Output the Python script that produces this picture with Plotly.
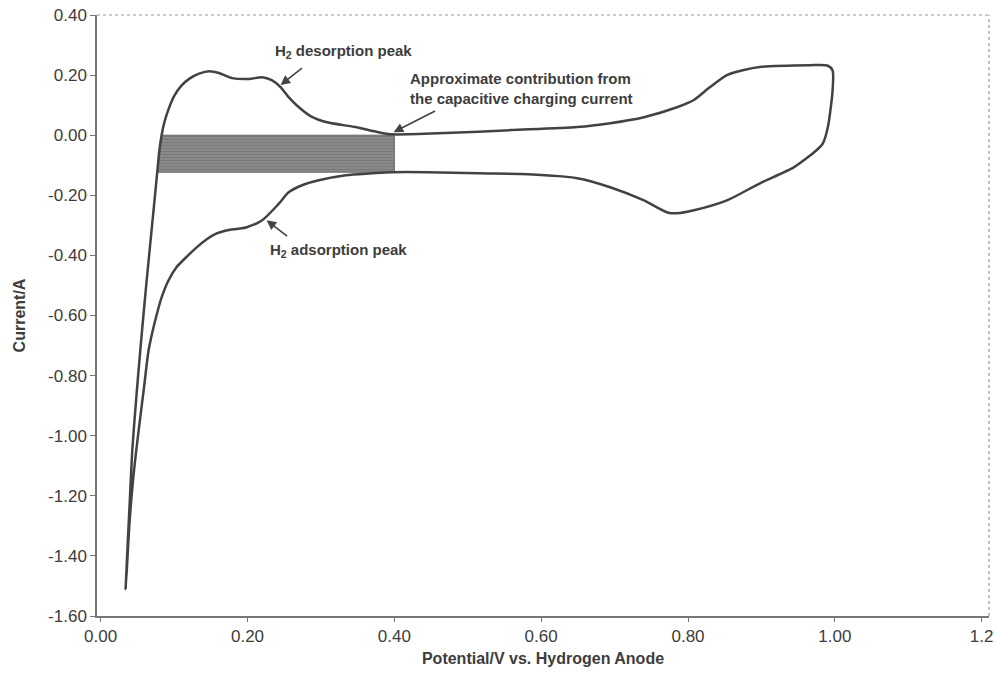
import plotly.graph_objects as go

# Cyclic voltammogram (potential V, current A)
potential = [0.034, 0.037, 0.040, 0.043, 0.047, 0.051, 0.056, 0.062, 0.070, 0.076,
             0.080, 0.083, 0.087, 0.093, 0.100, 0.110, 0.122, 0.134, 0.148, 0.161,
             0.179, 0.202, 0.220, 0.233, 0.245, 0.256, 0.270, 0.287, 0.310, 0.347,
             0.378, 0.396, 0.469, 0.559, 0.649, 0.694, 0.740, 0.785, 0.808, 0.830,
             0.853, 0.876, 0.898, 0.965, 0.990, 0.997, 0.997, 0.994, 0.991, 0.987,
             0.983, 0.975, 0.965, 0.944, 0.898, 0.853, 0.808, 0.785, 0.772, 0.740,
             0.694, 0.649, 0.582, 0.514, 0.446, 0.396, 0.369, 0.334, 0.297, 0.276,
             0.256, 0.243, 0.220, 0.198, 0.171, 0.158, 0.144, 0.130, 0.117, 0.103,
             0.092, 0.083, 0.076, 0.070, 0.065, 0.059, 0.050, 0.044, 0.039, 0.036,
             0.034]
current = [-1.51, -1.35, -1.2, -1.05, -0.92, -0.8, -0.66, -0.5, -0.3, -0.15,
           -0.05, 0.0, 0.045, 0.09, 0.13, 0.165, 0.19, 0.205, 0.213, 0.207,
           0.19, 0.187, 0.193, 0.183, 0.16, 0.127, 0.093, 0.062, 0.042, 0.027,
           0.01, 0.003, 0.007, 0.017, 0.027, 0.04, 0.06, 0.093, 0.117, 0.16,
           0.2, 0.217, 0.227, 0.233, 0.232, 0.215, 0.15, 0.083, 0.033, -0.007,
           -0.03, -0.05, -0.07, -0.107, -0.16, -0.217, -0.25, -0.26, -0.257, -0.217,
           -0.173, -0.143, -0.13, -0.127, -0.123, -0.123, -0.127, -0.133, -0.15, -0.165,
           -0.19, -0.227, -0.283, -0.307, -0.317, -0.327, -0.347, -0.375, -0.405, -0.44,
           -0.485, -0.54, -0.6, -0.66, -0.72, -0.84, -1.017, -1.15, -1.3, -1.43,
           -1.51]

# Shaded capacitive-charging region
shade_x = [0.083, 0.40, 0.40, 0.078, 0.083]
shade_y = [0.0, 0.0, -0.123, -0.123, 0.0]

x_tickvals = [0.0, 0.2, 0.4, 0.6, 0.8, 1.0, 1.2]
x_ticktext = ["0.00", "0.20", "0.40", "0.60", "0.80", "1.00", "1.2"]
y_tickvals = [0.4, 0.2, 0.0, -0.2, -0.4, -0.6, -0.8, -1.0, -1.2, -1.4, -1.6]
y_ticktext = ["0.40", "0.20", "0.00", "-0.20", "-0.40", "-0.60", "-0.80",
              "-1.00", "-1.20", "-1.40", "-1.60"]

TXT = "#3d3d3d"
FONT = "Liberation Sans, Arial, sans-serif"

fig = go.Figure()
fig.add_trace(go.Scatter(
    x=shade_x, y=shade_y, mode="lines", fill="toself",
    fillcolor="#858585",
    fillpattern=dict(shape="-", bgcolor="#8c8c8c", fgcolor="#666666", size=3, solidity=0.4),
    line=dict(color="#666666", width=1), hoverinfo="skip", showlegend=False))
fig.add_trace(go.Scatter(
    x=potential, y=current, mode="lines",
    line=dict(color="#424242", width=2.5, shape="spline", smoothing=0.7),
    showlegend=False))

fig.update_layout(
    width=998, height=676,
    margin=dict(l=97, r=5, t=15, b=60),
    paper_bgcolor="white", plot_bgcolor="white",
    font=dict(family=FONT, color=TXT),
    xaxis=dict(range=[-0.005, 1.21], tickvals=x_tickvals, ticktext=x_ticktext,
               showgrid=False, zeroline=False, showline=True, linecolor="#777",
               linewidth=1.5, ticks="outside", ticklen=4, tickcolor="#777",
               tickfont=dict(size=17, color=TXT),
               title=dict(text="<b>Potential/V vs. Hydrogen Anode</b>",
                          font=dict(size=16, color=TXT), standoff=8)),
    yaxis=dict(range=[-1.6, 0.4], tickvals=y_tickvals, ticktext=y_ticktext,
               showgrid=False, zeroline=False, showline=True, linecolor="#777",
               linewidth=1.5, ticks="outside", ticklen=5, tickcolor="#777",
               tickfont=dict(size=17, color=TXT),
               title=dict(text="<b>Current/A</b>", font=dict(size=16, color=TXT),
                          standoff=18)),
)

# dotted top/right border
fig.add_shape(type="line", xref="paper", yref="paper", x0=0, x1=1, y0=1, y1=1,
              line=dict(color="#999", width=1.2, dash="dot"))
fig.add_shape(type="line", xref="paper", yref="paper", x0=1, x1=1, y0=0, y1=1,
              line=dict(color="#999", width=1.2, dash="dot"))

afont = dict(size=15, color=TXT, family=FONT)
# arrows
fig.add_annotation(x=0.245, y=0.167, ax=23, ay=-18, text="", showarrow=True,
                   arrowhead=2, arrowsize=1.2, arrowwidth=1.6, arrowcolor="#444")
fig.add_annotation(x=0.226, y=-0.283, ax=22, ay=17, text="", showarrow=True,
                   arrowhead=2, arrowsize=1.2, arrowwidth=1.6, arrowcolor="#444")
fig.add_annotation(x=0.399, y=0.01, ax=43, ay=-22, text="", showarrow=True,
                   arrowhead=2, arrowsize=1.2, arrowwidth=1.6, arrowcolor="#444")
# labels
fig.add_annotation(x=0.331, y=0.28, text="<b>H<sub>2</sub> desorption peak</b>",
                   showarrow=False, font=afont)
fig.add_annotation(x=0.324, y=-0.383, text="<b>H<sub>2</sub> adsorption peak</b>",
                   showarrow=False, font=afont)
fig.add_annotation(x=0.418, y=0.155, xanchor="left", align="left",
                   text="<b>Approximate contribution from<br>the capacitive charging current</b>",
                   showarrow=False, font=afont)

fig.write_html("out.html")
